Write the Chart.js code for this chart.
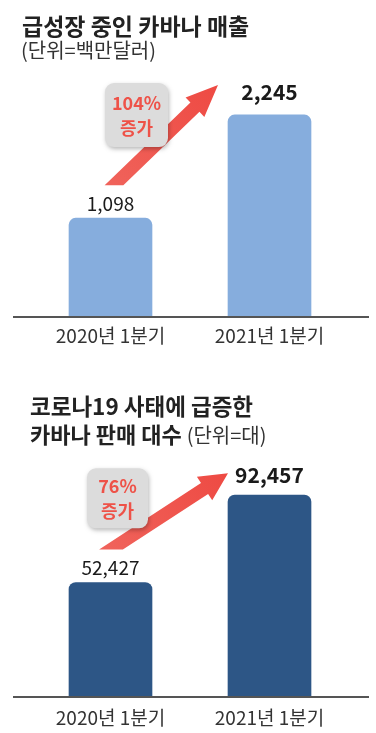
<!DOCTYPE html>
<html><head><meta charset="utf-8">
<script src="https://cdn.jsdelivr.net/npm/chart.js@4.4.1/dist/chart.umd.min.js"></script>
<style>
html,body{margin:0;padding:0;background:#fff;}
body{width:376px;height:733px;position:relative;overflow:hidden;font-family:"Noto Sans CJK KR","Noto Sans",sans-serif;}
.t{position:absolute;white-space:nowrap;color:#222;}
#w1{position:absolute;left:0;top:0;width:376px;height:366px;}
#w2{position:absolute;left:0;top:366px;width:376px;height:367px;}
</style></head><body>
<div id="w1"><canvas id="c1"></canvas></div>
<div id="w2"><canvas id="c2"></canvas></div>
<div class="t" style="left:22px;top:12px;font-size:23px;font-weight:700;line-height:26px;">급성장 중인 카바나 매출</div>
<div class="t" style="left:21px;top:38px;font-size:20px;font-weight:400;line-height:24px;color:#333;">(단위=백만달러)</div>
<div class="t" style="left:30px;top:392px;font-size:22.5px;font-weight:700;line-height:26px;">코로나19 사태에 급증한</div>
<div class="t" style="left:30px;top:420px;font-size:22px;font-weight:700;line-height:26px;">카바나 판매 대수 <span style="font-weight:400;font-size:20px;color:#333;">(단위=대)</span></div>
<script>
// ---- data ----
const categories = ['2020년 1분기', '2021년 1분기'];
const revenue = [1098, 2245];          // 백만달러
const unitsSold = [52427, 92457];      // 대
const revenueGrowth = ['104%', '증가'];
const unitsGrowth = ['76%', '증가'];
const revenueMax = 3000;
const unitsMax = 120000;

const FONT = '"Noto Sans CJK KR", "Noto Sans", sans-serif';

function roundRect(ctx, x, y, w, h, r) {
  ctx.beginPath();
  ctx.moveTo(x + r, y);
  ctx.arcTo(x + w, y, x + w, y + h, r);
  ctx.arcTo(x + w, y + h, x, y + h, r);
  ctx.arcTo(x, y + h, x, y, r);
  ctx.arcTo(x, y, x + w, y, r);
  ctx.closePath();
}

function drawArrow(ctx, tail, tip, w, hl, hw) {
  const dx = tip.x - tail.x, dy = tip.y - tail.y;
  const len = Math.hypot(dx, dy);
  const d = {x: dx / len, y: dy / len};
  const n = {x: -d.y, y: d.x};
  const hb = {x: tip.x - d.x * hl, y: tip.y - d.y * hl};
  const e1 = {x: hb.x + n.x * w, y: hb.y + n.y * w};
  const e2 = {x: hb.x - n.x * w, y: hb.y - n.y * w};
  const s1 = (tail.y - e1.y) / d.y, s2 = (tail.y - e2.y) / d.y;
  const t1 = {x: e1.x + d.x * s1, y: tail.y};
  const t2 = {x: e2.x + d.x * s2, y: tail.y};
  const g = ctx.createLinearGradient(tail.x, tail.y, tip.x, tip.y);
  g.addColorStop(0, '#F0625A');
  g.addColorStop(1, '#EE4A43');
  ctx.fillStyle = g;
  ctx.beginPath();
  ctx.moveTo(t1.x, t1.y);
  ctx.lineTo(e1.x, e1.y);
  ctx.lineTo(hb.x + n.x * hw, hb.y + n.y * hw);
  ctx.lineTo(tip.x, tip.y);
  ctx.lineTo(hb.x - n.x * hw, hb.y - n.y * hw);
  ctx.lineTo(e2.x, e2.y);
  ctx.lineTo(t2.x, t2.y);
  ctx.closePath();
  ctx.fill();
}

function decoPlugin(values, growth, o) {
  return {
    id: 'deco',
    afterDatasetsDraw(chart) {
      const ctx = chart.ctx, a = chart.chartArea;
      const bars = chart.getDatasetMeta(0).data;
      ctx.save();
      // baseline
      ctx.strokeStyle = '#555';
      ctx.lineWidth = 2;
      ctx.beginPath();
      ctx.moveTo(a.left - o.extL, a.bottom);
      ctx.lineTo(a.right + o.extR, a.bottom);
      ctx.stroke();
      // value labels
      bars.forEach((bar, i) => {
        ctx.font = o.labelWeight[i] + ' ' + o.labelSize[i] + 'px ' + FONT;
        ctx.fillStyle = '#1a1a1a';
        ctx.textAlign = 'center';
        ctx.textBaseline = 'middle';
        ctx.fillText(values[i].toLocaleString('en-US'), bar.x, bar.y - o.labelOff[i]);
      });
      // arrow
      const tail = {x: bars[0].x + o.tail[0], y: bars[0].y + o.tail[1]};
      const tip = {x: bars[1].x + o.tip[0], y: bars[1].y + o.tip[1]};
      drawArrow(ctx, tail, tip, o.shaftW, o.headL, o.headW);
      // badge
      const cx = (tail.x + tip.x) / 2 + o.box[0], cy = (tail.y + tip.y) / 2 + o.box[1];
      ctx.shadowColor = 'rgba(0,0,0,0.28)';
      ctx.shadowBlur = 4; ctx.shadowOffsetX = 1; ctx.shadowOffsetY = 2;
      ctx.fillStyle = '#DCDCDC';
      roundRect(ctx, cx - o.boxW / 2, cy - o.boxH / 2, o.boxW, o.boxH, 9);
      ctx.fill();
      ctx.shadowColor = 'transparent';
      ctx.fillStyle = '#EE5248';
      ctx.font = '700 18px ' + FONT;
      ctx.textAlign = 'center';
      ctx.textBaseline = 'middle';
      ctx.fillText(growth[0], cx, cy - 12);
      ctx.fillText(growth[1], cx, cy + 13);
      ctx.restore();
    }
  };
}

function makeChart(id, values, max, color, growth, o) {
  return new Chart(document.getElementById(id), {
    type: 'bar',
    data: {
      labels: categories,
      datasets: [{
        data: values,
        backgroundColor: color,
        borderRadius: 7,
        borderSkipped: 'start',
        barThickness: 83
      }]
    },
    options: {
      responsive: true,
      maintainAspectRatio: false,
      animation: false,
      layout: {padding: {left: 31, right: 27, top: o.padTop, bottom: 0}},
      plugins: {legend: {display: false}, tooltip: {enabled: false}},
      scales: {
        x: {
          grid: {display: false, drawTicks: false},
          border: {display: false},
          ticks: {color: '#333', font: {family: FONT, size: 19}, padding: o.tickPad},
          afterFit: (s) => { s.height = o.xH; }
        },
        y: {display: false, min: 0, max: max}
      }
    },
    plugins: [decoPlugin(values, growth, o)]
  });
}

makeChart('c1', revenue, revenueMax, '#86ADDD', revenueGrowth, {
  padTop: 47, xH: 49, tickPad: 7, extL: 18, extR: 20,
  labelWeight: ['400', '700'], labelSize: [19, 21], labelOff: [14, 23],
  tail: [3.5, -33], tip: [-51.5, -30], shaftW: 6.5, headL: 32, headW: 13.5,
  box: [-29.5, -20], boxW: 63, boxH: 64
});
makeChart('c2', unitsSold, unitsMax, '#2D5686', unitsGrowth, {
  padTop: 69, xH: 36, tickPad: 9, extL: 18, extR: 20,
  labelWeight: ['400', '700'], labelSize: [19, 21], labelOff: [15, 20],
  tail: [0.5, -33], tip: [-41.5, -22], shaftW: 6.5, headL: 28, headW: 14,
  box: [-52, -13], boxW: 61, boxH: 60
});
</script>
</body></html>
